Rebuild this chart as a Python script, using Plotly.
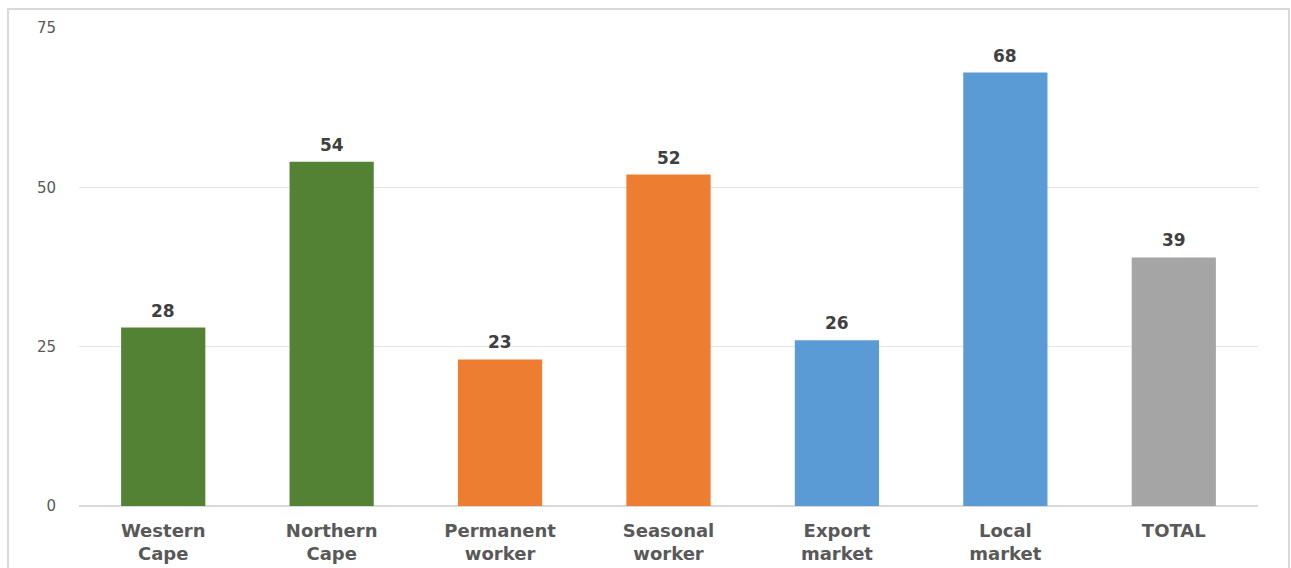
import plotly.graph_objects as go

categories = ["Western<br>Cape", "Northern<br>Cape", "Permanent<br>worker", "Seasonal<br>worker",
              "Export<br>market", "Local<br>market", "TOTAL"]
values = [28, 54, 23, 52, 26, 68, 39]
colors = ["#548235", "#548235", "#ED7D31", "#ED7D31", "#5B9BD5", "#5B9BD5", "#A5A5A5"]
y_ticks = [0, 25, 50, 75]

W, H = 1291, 568
ml, mr, mt, mb = 79, 33, 28, 62
pw, ph = W - ml - mr, H - mt - mb

fig = go.Figure(go.Bar(x=categories, y=values, marker=dict(color=colors, line=dict(width=0)),
                       width=0.5, hoverinfo="x+y"))

for c, v in zip(categories, values):
    fig.add_annotation(x=c, y=v, text=f"<b>{v}</b>", showarrow=False, yanchor="bottom", yshift=5,
                       font=dict(family="DejaVu Sans", size=17, color="#404040"))

fig.add_shape(type="rect", xref="paper", yref="paper",
              x0=(8 - ml) / pw, x1=(1289 - ml) / pw,
              y0=(H - mb - 600) / ph, y1=(H - mb - 9) / ph,
              line=dict(color="#D9D9D9", width=2), fillcolor="rgba(0,0,0,0)", layer="below")

fig.update_layout(
    width=W, height=H,
    margin=dict(l=ml, r=mr, t=mt, b=mb),
    paper_bgcolor="white", plot_bgcolor="white",
    showlegend=False,
    bargap=0.5,
    xaxis=dict(showgrid=False, showline=False, zeroline=False, ticks="", automargin=False,
               tickfont=dict(family="DejaVu Sans", size=18, color="#595959", weight="bold"),
               ticklabelstandoff=12),
    yaxis=dict(range=[0, 75], tickvals=y_ticks, showgrid=True, gridcolor="#E4E4E4", gridwidth=1,
               zeroline=True, zerolinecolor="#D9D9D9", zerolinewidth=2, showline=False, ticks="",
               automargin=False,
               tickfont=dict(family="DejaVu Sans", size=15, color="#595959"),
               ticklabelstandoff=22),
)

fig.write_html("out.html", config={"displayModeBar": False},
               post_script="document.body.style.margin='0';document.body.style.overflow='hidden';")
